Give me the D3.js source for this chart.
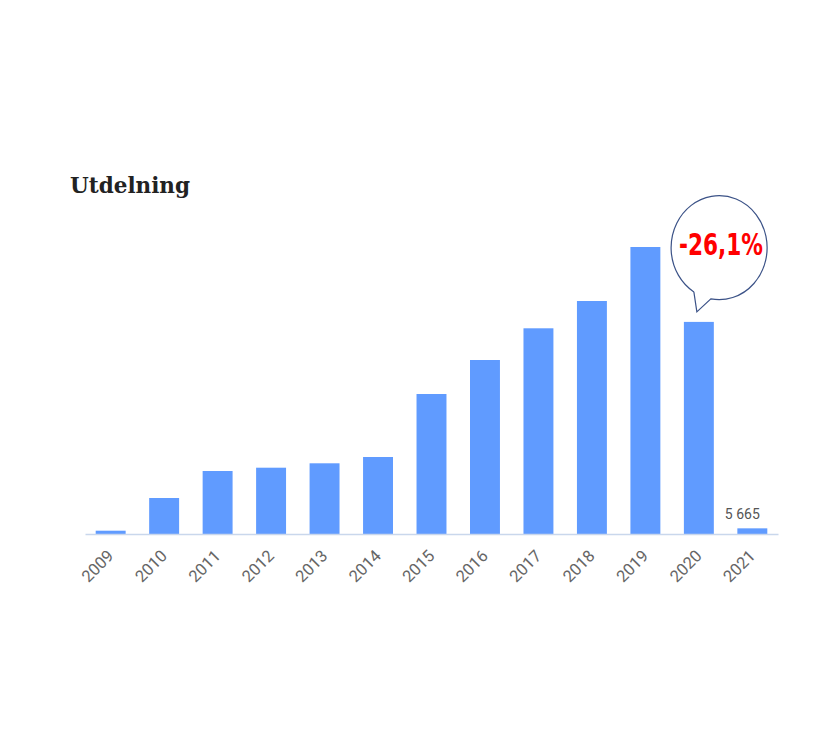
<!DOCTYPE html>
<html>
<head>
<meta charset="utf-8">
<script src="https://cdn.jsdelivr.net/npm/d3@7"></script>
<style>
  html, body { margin: 0; padding: 0; background: #fff; }
  svg { display: block; }
</style>
</head>
<body>
<svg id="chart" width="832" height="756"></svg>
<script>
const years = ["2009","2010","2011","2012","2013","2014","2015","2016","2017","2018","2019","2020","2021"];
const values = [3300, 36000, 63000, 66300, 70700, 77000, 140000, 174000, 205700, 233000, 287000, 212100, 5665];
const title = "Utdelning";
const changeLabel = "-26,1%";
const lastLabel = "5 665";

const svg = d3.select("#chart");
const baseY = 534;

const x = d3.scaleBand().domain(years).range([85, 778]).paddingInner(0.44).paddingOuter(0.2);
const y = d3.scaleLinear().domain([0, 287000]).range([baseY, 247]);

svg.append("text")
  .attr("x", 70).attr("y", 193)
  .attr("font-family", "'DejaVu Serif', serif")
  .attr("font-weight", "bold")
  .attr("font-size", 21.5)
  .attr("fill", "#222")
  .text(title);

svg.append("g").selectAll("rect").data(values).join("rect")
  .attr("x", (d, i) => x(years[i]))
  .attr("width", x.bandwidth())
  .attr("y", d => y(d))
  .attr("height", d => baseY - y(d))
  .attr("fill", "#609bff");

// axis
const axis = svg.append("g").attr("transform", `translate(0,${baseY})`)
  .call(d3.axisBottom(x).tickSize(0).tickPadding(0));
axis.select(".domain").attr("stroke", "#c9d7ec").attr("stroke-width", 1.5);
axis.selectAll(".tick text")
  .attr("font-family", "Roboto, sans-serif")
  .attr("font-size", 16.5)
  .attr("fill", "#666")
  .attr("text-anchor", "end")
  .attr("dy", 0)
  .attr("transform", "translate(4,23) rotate(-45)");

// last value label
const last = years.length - 1;
svg.append("text")
  .attr("x", x(years[last]) + x.bandwidth() / 2 - 10)
  .attr("y", y(values[last]) - 9)
  .attr("text-anchor", "middle")
  .attr("font-family", "Roboto, sans-serif")
  .attr("font-size", 14)
  .attr("fill", "#555")
  .text(lastLabel);

// callout bubble near 2020 bar
const bx = x("2020") + x.bandwidth() / 2;
const cx = bx + 17, cy = y(values[10]) - 1;
const rx = 48, ry = 52;
const tip = [bx - 2, y(values[11]) - 10];
const p1 = [bx - 5, y(values[11]) - 30];
const p2 = [bx + 12, y(values[11]) - 23];
svg.append("path")
  .attr("d", `M${p1[0]},${p1[1]} L${tip[0]},${tip[1]} L${p2[0]},${p2[1]} A${rx} ${ry} 0 1 0 ${p1[0]},${p1[1]}`)
  .attr("fill", "none")
  .attr("stroke", "#3b5287")
  .attr("stroke-width", 1.2);

svg.append("text")
  .attr("x", 679).attr("y", 255)
  .attr("font-family", "'DejaVu Sans', sans-serif")
  .attr("font-weight", "bold")
  .attr("font-size", 30)
  .attr("textLength", 84)
  .attr("lengthAdjust", "spacingAndGlyphs")
  .attr("fill", "#ff0000")
  .text(changeLabel);
</script>
</body>
</html>
